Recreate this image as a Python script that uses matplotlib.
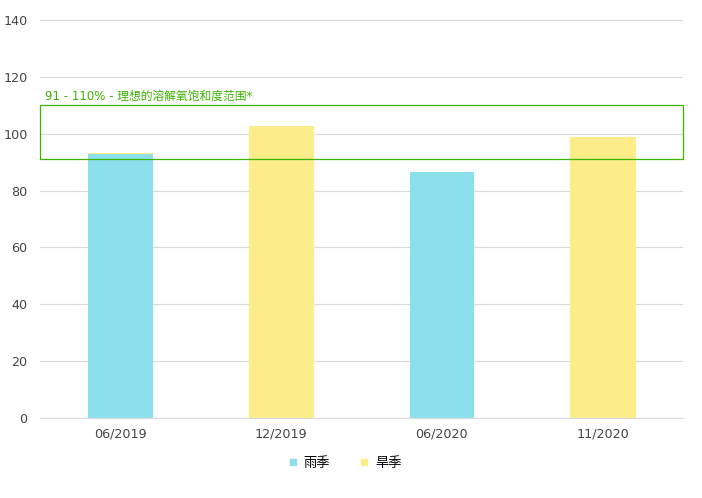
import numpy as np
import matplotlib.pyplot as plt
from matplotlib.lines import Line2D
from matplotlib.patches import Rectangle

plt.rcParams['font.family'] = ['DejaVu Sans', 'Noto Sans CJK SC']

categories = ['06/2019', '12/2019', '06/2020', '11/2020']
rain_values = [93.2, 0, 86.5, 0]
dry_values = [0, 102.7, 0, 98.8]
show_dry = [True, True, False, True]
range_low, range_high = 91, 110
range_label = '91 - 110% - 理想的溶解氧饱和度范围*'

rain_color = '#8be0ec'
dry_color = '#fded8a'
green = '#3cb300'

fig = plt.figure(figsize=(7.02, 4.98), dpi=100)
ax = fig.add_axes([40 / 702, 80 / 498, 643 / 702, 398 / 498])

x = np.arange(len(categories))
ax.bar(x, rain_values, width=0.4, color=rain_color, zorder=2)
for xi, v, s in zip(x, dry_values, show_dry):
    if s:
        ax.bar(xi, v, width=0.4, bottom=rain_values[xi], color=dry_color,
               edgecolor=dry_color, linewidth=0.8, zorder=2)

ax.add_patch(Rectangle((-0.5, range_low), len(categories) - 0.003, range_high - range_low,
                       fill=False, edgecolor=green, linewidth=0.9, zorder=3, clip_on=False))
ax.text(-0.47, range_high + 3.3, range_label, color=green, fontsize=8.5,
        va='center', ha='left')

ax.set_xlim(-0.5, len(categories) - 0.5)
ax.set_ylim(0, 140)
ax.set_yticks(range(0, 141, 20))
ax.set_xticks(x)
ax.set_xticklabels(categories)
ax.yaxis.grid(True, color='#d9d9d9', linewidth=0.8, zorder=0)
ax.set_axisbelow(True)
for sp in ['top', 'right', 'left']:
    ax.spines[sp].set_visible(False)
ax.spines['bottom'].set_color('#d9d9d9')
ax.tick_params(axis='both', length=0, labelsize=9.2, labelcolor='#444444')
ax.tick_params(axis='x', pad=7)
ax.tick_params(axis='y', pad=9)

handles = [Line2D([], [], marker='s', linestyle='', markersize=5,
                  markerfacecolor=rain_color, markeredgecolor=rain_color),
           Line2D([], [], marker='s', linestyle='', markersize=5,
                  markerfacecolor=dry_color, markeredgecolor=dry_color)]
fig.legend(handles, ['雨季', '旱季'], loc='center', bbox_to_anchor=(344 / 702, 1 - 463 / 498),
           ncol=2, frameon=False, fontsize=9.5, handletextpad=0.3, columnspacing=2.1,
           handlelength=1)

fig.savefig('out.png', dpi=100)
